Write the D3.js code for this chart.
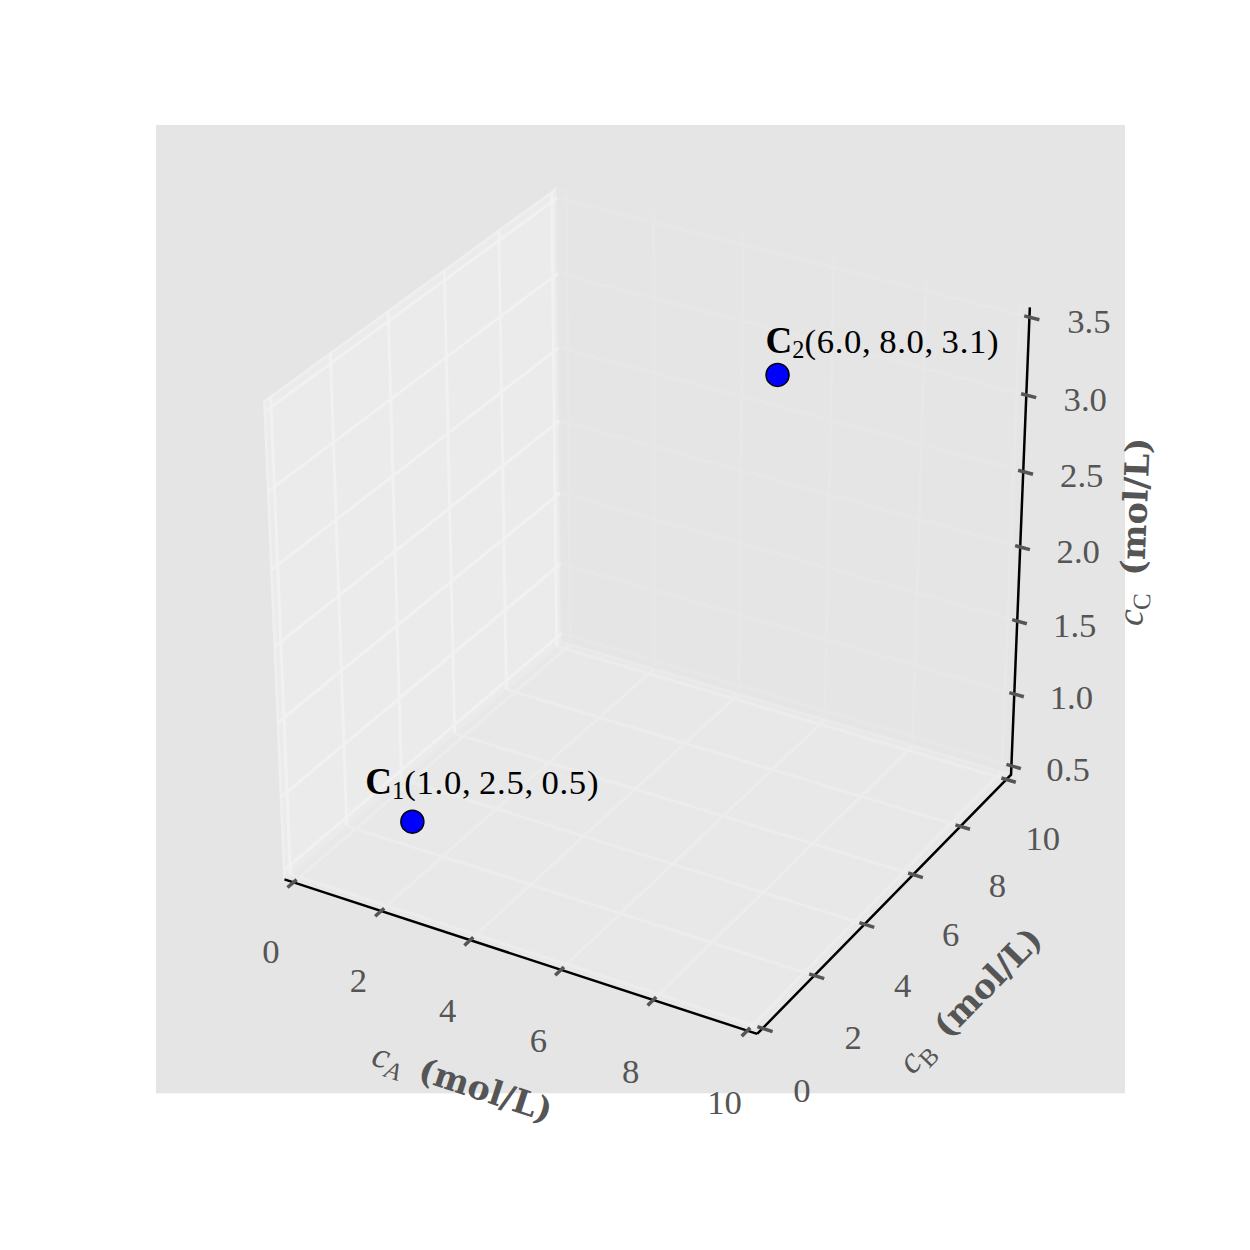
<!DOCTYPE html>
<html><head><meta charset="utf-8">
<script src="https://cdn.jsdelivr.net/npm/d3@7"></script>
<style>html,body{margin:0;padding:0;background:#fff}svg{display:block}</style>
</head><body>
<script>
// ---------- data ----------
const pointNames = ["C", "C"];
const pointSubs = ["1", "2"];
const cA = [1.0, 6.0];
const cB = [2.5, 8.0];
const cC = [0.5, 3.1];
const xTicks = [0, 2, 4, 6, 8, 10];
const yTicks = [0, 2, 4, 6, 8, 10];
const zTicks = [0.5, 1.0, 1.5, 2.0, 2.5, 3.0, 3.5];
const xTickLabels = ["0", "2", "4", "6", "8", "10"];
const yTickLabels = ["0", "2", "4", "6", "8", "10"];
const zTickLabels = ["0.5", "1.0", "1.5", "2.0", "2.5", "3.0", "3.5"];
const xDomain = [0, 10], yDomain = [0, 10], zDomain = [0.5, 3.5];
const axisSubs = ["A", "B", "C"];
// layout: label offsets (pixels) of annotation text relative to the point
const annotOffsets = [[-47, -28], [-12, -22]];

// ---------- view ----------
const W = 1250, H = 1250;
const elev = 30 * Math.PI / 180, azim = -60 * Math.PI / 180, dist = 10;
const Rc = [0.5, 0.5, 0.5];
const nv = [Math.cos(azim) * Math.cos(elev), Math.sin(azim) * Math.cos(elev), Math.sin(elev)];
const E = [Rc[0] + dist * nv[0], Rc[1] + dist * nv[1], Rc[2] + dist * nv[2]];
let uv = [-nv[1], nv[0], 0];
const um = Math.hypot(...uv); uv = uv.map(d => d / um);
const vv = [nv[1] * uv[2] - nv[2] * uv[1], nv[2] * uv[0] - nv[0] * uv[2], nv[0] * uv[1] - nv[1] * uv[0]];
const dot = (a, b) => a[0] * b[0] + a[1] * b[1] + a[2] * b[2];

const sx = d3.scaleLinear().domain([-0.095, 0.09]).range([156, 1125]);
const sy = d3.scaleLinear().domain([-0.095, 0.09]).range([1093.3, 125]);
const nx = d3.scaleLinear().domain(xDomain).range([0, 1]);
const ny = d3.scaleLinear().domain(yDomain).range([0, 1]);
const nz = d3.scaleLinear().domain(zDomain).range([0, 1]);

function proj(p) {
  const d = [p[0] - E[0], p[1] - E[1], p[2] - E[2]];
  const w = -dot(nv, d);
  return [sx(dot(uv, d) / w), sy(dot(vv, d) / w)];
}
const line = d3.line().x(p => proj(p)[0]).y(p => proj(p)[1]);

const dl = 1 / 48, lo = -dl, hi = 1 + dl;
const tOut = 0.021, tIn = 0.011;
const Lt = 0.084, La = 0.1864;

const svg = d3.select("body").append("svg").attr("width", W).attr("height", H);
svg.append("rect").attr("width", W).attr("height", H).attr("fill", "#ffffff");
svg.append("rect").attr("x", 156).attr("y", 125).attr("width", 969).attr("height", 968.3).attr("fill", "#e5e5e5");

// panes
const panes = [
  {pts: [[lo, lo, lo], [lo, hi, lo], [lo, hi, hi], [lo, lo, hi]], fill: "#ebebeb", edge: "#efefef"},
  {pts: [[lo, hi, lo], [hi, hi, lo], [hi, hi, hi], [lo, hi, hi]], fill: "#e5e5e5", edge: "#e6e6e6"},
  {pts: [[lo, lo, lo], [hi, lo, lo], [hi, hi, lo], [lo, hi, lo]], fill: "#e8e8e8", edge: "#eaeaea"}
];
const gP = svg.append("g");
panes.forEach(p => {
  gP.append("path").attr("d", line(p.pts) + "Z").attr("fill", p.fill)
    .attr("stroke", p.edge).attr("stroke-width", 2.5).attr("stroke-linejoin", "round");
});

// grid
const gridCol = {left: "#f1f1f1", back: "#e7e7e7", floor: "#ececec"};
const gG = svg.append("g").attr("fill", "none").attr("stroke-width", 3);
function seg(a, b, c) { gG.append("path").attr("d", line([a, b])).attr("stroke", c); }
xTicks.forEach(v => { const t = nx(v); seg([t, lo, lo], [t, hi, lo], gridCol.floor); seg([t, hi, lo], [t, hi, hi], gridCol.back); });
yTicks.forEach(v => { const t = ny(v); seg([hi, t, lo], [lo, t, lo], gridCol.floor); seg([lo, t, lo], [lo, t, hi], gridCol.left); });
zTicks.forEach(v => { const t = nz(v); seg([lo, lo, t], [lo, hi, t], gridCol.left); seg([lo, hi, t], [hi, hi, t], gridCol.back); });

// axis lines
const gA = svg.append("g").attr("fill", "none").attr("stroke", "#000").attr("stroke-width", 2.5);
gA.append("path").attr("d", line([[lo, lo, lo], [hi, lo, lo]]));
gA.append("path").attr("d", line([[hi, lo, lo], [hi, hi, lo], [hi, hi, hi]])).attr("stroke-linejoin", "miter");

// ticks
const gT = svg.append("g").attr("fill", "none").attr("stroke", "#555555").attr("stroke-width", 3.5);
xTicks.forEach(v => { const t = nx(v); gT.append("path").attr("d", line([[t, lo - tOut, lo], [t, lo + tIn, lo]])); });
yTicks.forEach(v => { const t = ny(v); gT.append("path").attr("d", line([[hi + tOut, t, lo], [hi - tIn, t, lo]])); });
zTicks.forEach(v => { const t = nz(v); gT.append("path").attr("d", line([[hi + tOut, hi, t], [hi - tIn, hi, t]])); });

// tick labels
const fs = 34.7;
const gL = svg.append("g").attr("font-family", "'Liberation Serif', serif").attr("font-size", fs)
  .attr("fill", "#555555").attr("text-anchor", "middle");
function tickLabel(p, txt) {
  const q = proj(p);
  gL.append("text").attr("x", q[0]).attr("y", q[1] + 12 + 0.33 * fs).text(txt);
}
xTicks.forEach((v, i) => tickLabel([nx(v), lo - Lt, lo - Lt], xTickLabels[i]));
yTicks.forEach((v, i) => tickLabel([hi + Lt, ny(v), lo - Lt], yTickLabels[i]));
zTicks.forEach((v, i) => tickLabel([hi + Lt, hi + Lt, nz(v)], zTickLabels[i]));

// axis labels
function angleOf(a, b) { const p = proj(a), q = proj(b); return Math.atan2(q[1] - p[1], q[0] - p[0]) * 180 / Math.PI; }
const axisLabelDefs = [
  {pos: [0.5, lo - La, lo - La], ang: angleOf([lo, lo, lo], [hi, lo, lo]), sub: axisSubs[0], subItalic: true, adj: [-3, -2]},
  {pos: [hi + La, 0.5, lo - La], ang: angleOf([hi, lo, lo], [hi, hi, lo]), sub: axisSubs[1], subItalic: false, adj: [-2, -6]},
  {pos: [hi + La, hi + La, 0.5], ang: angleOf([hi, hi, lo], [hi, hi, hi]), sub: axisSubs[2], subItalic: false, adj: [-13, 2]}
];
axisLabelDefs.forEach(d => {
  const q = proj(d.pos);
  const g = svg.append("g").attr("transform", `translate(${q[0] + d.adj[0]},${q[1] + d.adj[1]}) rotate(${d.ang})`);
  const t = g.append("text").attr("text-anchor", "middle").attr("y", 0.3 * fs)
    .attr("fill", "#555555").attr("font-family", "'Liberation Serif', serif").attr("font-size", fs);
  t.append("tspan").attr("font-style", "italic").attr("font-size", 37).text("c");
  t.append("tspan").attr("font-size", fs * 0.72).attr("dy", 7).attr("font-style", d.subItalic ? "italic" : "normal").text(d.sub);
  t.append("tspan").attr("dy", -7).text("\u2002");
  t.append("tspan").attr("font-family", "'DejaVu Serif', serif").attr("font-weight", "bold").attr("font-size", 33.5).text("(mol/L)");
});

// points
const pts = cA.map((a, i) => ({a, b: cB[i], c: cC[i], name: pointNames[i], sub: pointSubs[i], off: annotOffsets[i]}));
const gD = svg.append("g");
pts.forEach(p => {
  const q = proj([nx(p.a), ny(p.b), nz(p.c)]);
  gD.append("circle").attr("cx", q[0]).attr("cy", q[1]).attr("r", 11.5)
    .attr("fill", "#0000ff").attr("stroke", "#000").attr("stroke-width", 1.5);
  const t = gD.append("text").attr("x", q[0] + p.off[0]).attr("y", q[1] + p.off[1])
    .attr("font-family", "'Liberation Serif', serif").attr("font-size", fs).attr("fill", "#000");
  t.append("tspan").attr("font-weight", "bold").attr("font-size", 37).text(p.name);
  t.append("tspan").attr("font-size", fs * 0.7).attr("dy", 5).text(p.sub);
  t.append("tspan").attr("dy", -5).attr("letter-spacing", 0.7)
    .text(`(${p.a.toFixed(1)},\u2009${p.b.toFixed(1)},\u2009${p.c.toFixed(1)})`);
});
</script>
</body></html>
